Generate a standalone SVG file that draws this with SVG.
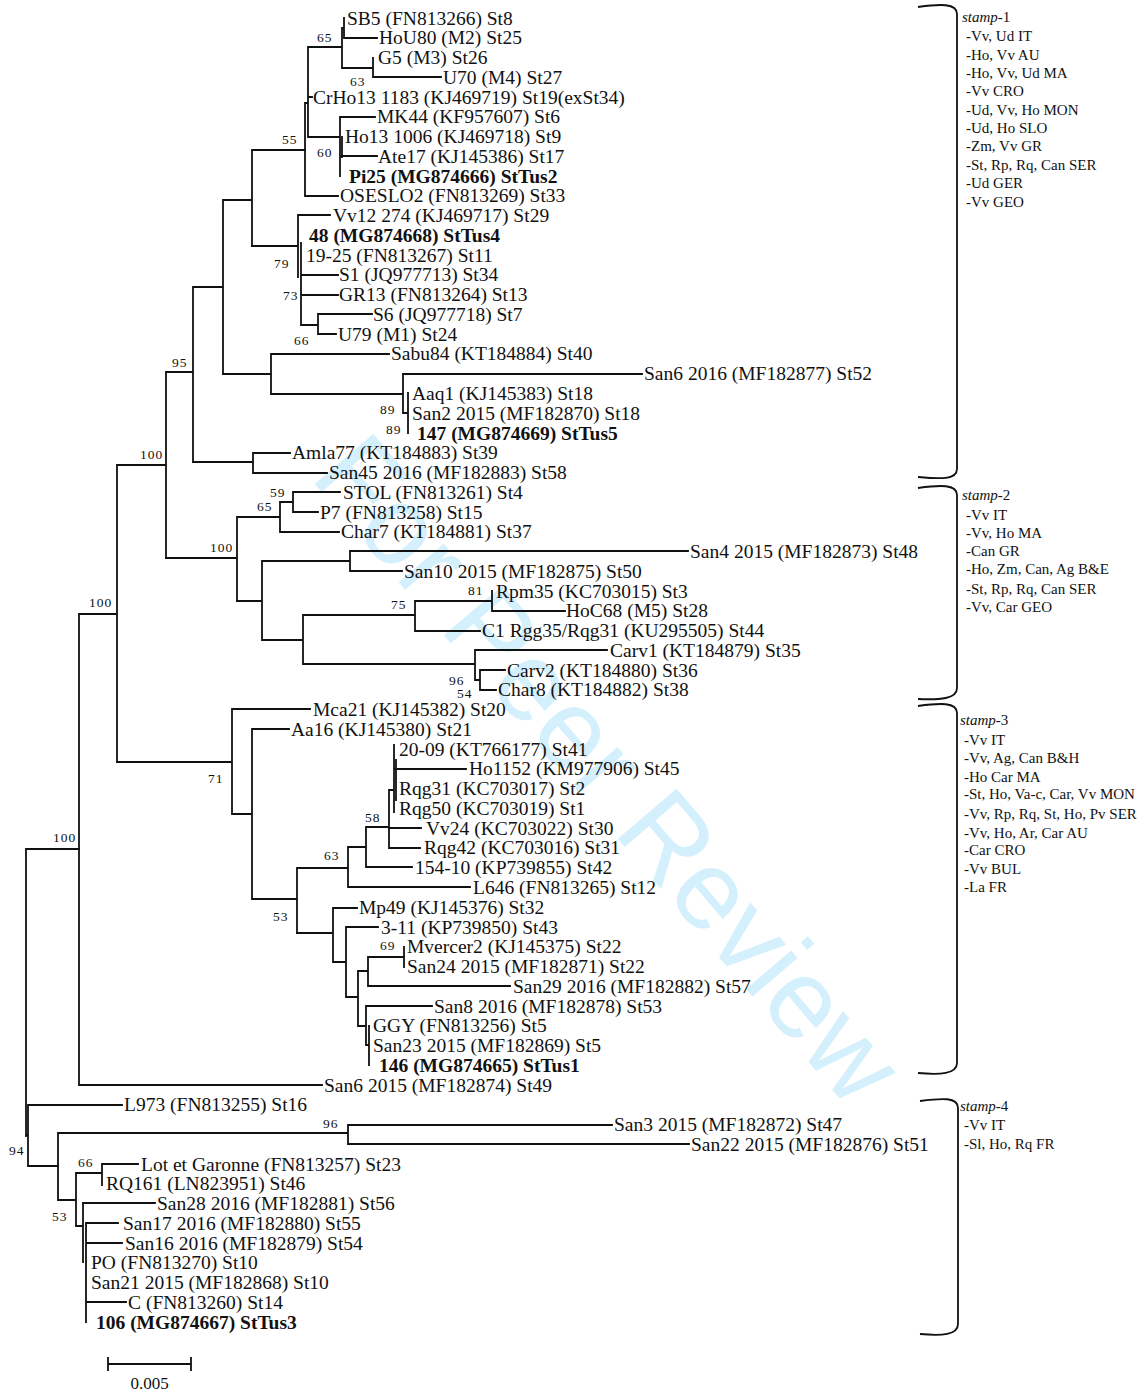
<svg xmlns="http://www.w3.org/2000/svg" width="1144" height="1393" viewBox="0 0 1144 1393">
<style>
.t{font-family:"Liberation Serif","Times New Roman",serif;font-size:19.5px;fill:#111}
.b{font-weight:bold}
.bs{font-family:"Liberation Serif","Times New Roman",serif;font-size:13.5px;letter-spacing:1px;fill:#111}
.s{font-family:"Liberation Serif","Times New Roman",serif;font-size:15px;fill:#111}
.br{fill:none;stroke:#111;stroke-width:1.8;stroke-linecap:square}
.bk{fill:none;stroke:#111;stroke-width:1.8}
.wm{font-family:"Liberation Sans",Arial,sans-serif;font-size:112px;fill:#d3f0fc}
</style>
<rect width="1144" height="1393" fill="#fff"/>
<g id="watermark"><text class="wm" transform="translate(610,768) rotate(49.5)" x="0" y="40" text-anchor="middle">For Peer Review</text></g>
<g id="connectors" class="br">
<path d="M26,849V1136M26,849H79M26,1135H28M28,1105V1166M28,1105H122M28,1166H58"/>
<path d="M79,614V1085M79,1085H322M79,614H117M117,465V762M117,465H166M166,372V558M166,372H193M193,287V462M193,287H223M223,200V374M223,200H252M252,150V246M252,150H305"/>
<path d="M305,103V196M305,196H338M305,103H308M308,47V137M308,47H342M342,28V68M342,28H344M344,18V38M344,38H377M342,68H373M373,58V77M373,77H441M308,97H312M308,137H340M340,117V176M342,137V157M340,117H375M340,156H377"/>
<path d="M252,246H298M298,215V277M298,215H330M301,243V325M301,275H338M301,295H338M301,325H318M318,314V334M318,314H372M318,334H336"/>
<path d="M223,374H271M271,354V394M271,354H389M271,394H403M403,374V413M403,374H642M403,413H408M408,393V433"/>
<path d="M193,462H253M253,453V473M253,453H290M253,473H327"/>
<path d="M166,558H237M237,517V601M237,517H280M280,502V532M280,502H293M293,492V512M293,492H340M293,512H318M280,532H339"/>
<path d="M237,601H262M262,561V640M262,561H350M350,551V571M350,551H688M350,571H402M262,640H303M303,615V664M303,615H415M415,601V631M415,601H492M492,591V611M492,611H565M415,631H480M303,664H475M475,650V680M475,650H607M475,680H480M480,670V690M480,670H505M480,690H496"/>
<path d="M117,762H232M232,709V814M232,709H310M232,814H252M252,729V899M252,729H289M252,899H297M297,868V933M297,868H348M348,847V887M348,887H470M348,847H366M366,827V867M366,867H412M366,827H389M389,790V848M389,828H421M389,848H420M389,790H394M394,745V812M396,760V800M394,769H466"/>
<path d="M297,933H333M333,908V962M333,908H357M333,962H346M346,927V997M346,927H378M346,997H358M358,971V1026M358,971H368M368,957V986M368,957H404M404,947V967M368,986H510M358,1026H366M366,1006V1045M366,1006H432M366,1045H369M369,1026V1065"/>
<path d="M58,1133V1200M58,1133H348M348,1125V1144M348,1125H612M348,1144H689M58,1200H76M76,1173V1226M76,1173H102M102,1164V1185M102,1164H138M76,1226H83M83,1203V1262M83,1203H155M86,1223V1322M86,1223H118M86,1243H122M86,1302H126"/>
</g>
<g id="leaves">
<g id="n1"><text class="t" x="347" y="24.5">SB5 (FN813266) St8</text></g>
<g id="n2"><text class="t" x="379" y="44.3">HoU80 (M2) St25</text></g>
<g id="n3"><text class="t" x="378" y="64">G5 (M3) St26</text></g>
<g id="n4"><text class="t" x="443" y="83.8">U70 (M4) St27</text></g>
<g id="n5"><text class="t" x="313" y="103.5">CrHo13 1183 (KJ469719) St19(exSt34)</text></g>
<g id="n6"><text class="t" x="377" y="123.3">MK44 (KF957607) St6</text></g>
<g id="n7"><text class="t" x="345" y="143.1">Ho13 1006 (KJ469718) St9</text></g>
<g id="n8"><text class="t" x="378" y="162.8">Ate17 (KJ145386) St17</text></g>
<g id="n9"><text class="t b" x="349" y="182.6">Pi25 (MG874666) StTus2</text></g>
<g id="n10"><text class="t" x="340" y="202.3">OSESLO2 (FN813269) St33</text></g>
<g id="n11"><text class="t" x="333" y="222.1">Vv12 274 (KJ469717) St29</text></g>
<g id="n12"><text class="t b" x="309" y="241.9">48 (MG874668) StTus4</text></g>
<g id="n13"><text class="t" x="306" y="261.6">19-25 (FN813267) St11</text></g>
<g id="n14"><text class="t" x="339" y="281.4">S1 (JQ977713) St34</text></g>
<g id="n15"><text class="t" x="339" y="301.1">GR13 (FN813264) St13</text></g>
<g id="n16"><text class="t" x="373" y="320.9">S6 (JQ977718) St7</text></g>
<g id="n17"><text class="t" x="338" y="340.7">U79 (M1) St24</text></g>
<g id="n18"><text class="t" x="391" y="360.4">Sabu84 (KT184884) St40</text></g>
<g id="n19"><text class="t" x="644" y="380.2">San6 2016 (MF182877) St52</text></g>
<g id="n20"><text class="t" x="412" y="399.9">Aaq1 (KJ145383) St18</text></g>
<g id="n21"><text class="t" x="412" y="419.7">San2 2015 (MF182870) St18</text></g>
<g id="n22"><text class="t b" x="417" y="439.5">147 (MG874669) StTus5</text></g>
<g id="n23"><text class="t" x="292" y="459.2">Amla77 (KT184883) St39</text></g>
<g id="n24"><text class="t" x="329" y="479">San45 2016 (MF182883) St58</text></g>
<g id="n25"><text class="t" x="343" y="498.7">STOL (FN813261) St4</text></g>
<g id="n26"><text class="t" x="320" y="518.5">P7 (FN813258) St15</text></g>
<g id="n27"><text class="t" x="341" y="538.3">Char7 (KT184881) St37</text></g>
<g id="n28"><text class="t" x="690" y="558">San4 2015 (MF182873) St48</text></g>
<g id="n29"><text class="t" x="404" y="577.8">San10 2015 (MF182875) St50</text></g>
<g id="n30"><text class="t" x="496" y="597.5">Rpm35 (KC703015) St3</text></g>
<g id="n31"><text class="t" x="566" y="617.3">HoC68 (M5) St28</text></g>
<g id="n32"><text class="t" x="482" y="637.1">C1 Rgg35/Rqg31 (KU295505) St44</text></g>
<g id="n33"><text class="t" x="610" y="656.8">Carv1 (KT184879) St35</text></g>
<g id="n34"><text class="t" x="507" y="676.6">Carv2 (KT184880) St36</text></g>
<g id="n35"><text class="t" x="498" y="696.3">Char8 (KT184882) St38</text></g>
<g id="n36"><text class="t" x="313" y="716.1">Mca21 (KJ145382) St20</text></g>
<g id="n37"><text class="t" x="291" y="735.9">Aa16 (KJ145380) St21</text></g>
<g id="n38"><text class="t" x="399" y="755.6">20-09 (KT766177) St41</text></g>
<g id="n39"><text class="t" x="469" y="775.4">Ho1152 (KM977906) St45</text></g>
<g id="n40"><text class="t" x="399" y="795.1">Rqg31 (KC703017) St2</text></g>
<g id="n41"><text class="t" x="399" y="814.9">Rqg50 (KC703019) St1</text></g>
<g id="n42"><text class="t" x="426" y="834.7">Vv24 (KC703022) St30</text></g>
<g id="n43"><text class="t" x="424" y="854.4">Rqg42 (KC703016) St31</text></g>
<g id="n44"><text class="t" x="415" y="874.2">154-10 (KP739855) St42</text></g>
<g id="n45"><text class="t" x="473" y="893.9">L646 (FN813265) St12</text></g>
<g id="n46"><text class="t" x="359" y="913.7">Mp49 (KJ145376) St32</text></g>
<g id="n47"><text class="t" x="381" y="933.5">3-11 (KP739850) St43</text></g>
<g id="n48"><text class="t" x="407" y="953.2">Mvercer2 (KJ145375) St22</text></g>
<g id="n49"><text class="t" x="407" y="973">San24 2015 (MF182871) St22</text></g>
<g id="n50"><text class="t" x="513" y="992.7">San29 2016 (MF182882) St57</text></g>
<g id="n51"><text class="t" x="434" y="1012.5">San8 2016 (MF182878) St53</text></g>
<g id="n52"><text class="t" x="373" y="1032.3">GGY (FN813256) St5</text></g>
<g id="n53"><text class="t" x="373" y="1052">San23 2015 (MF182869) St5</text></g>
<g id="n54"><text class="t b" x="379" y="1071.8">146 (MG874665) StTus1</text></g>
<g id="n55"><text class="t" x="324" y="1091.5">San6 2015 (MF182874) St49</text></g>
<g id="n56"><text class="t" x="124" y="1111.3">L973 (FN813255) St16</text></g>
<g id="n57"><text class="t" x="614" y="1131.1">San3 2015 (MF182872) St47</text></g>
<g id="n58"><text class="t" x="691" y="1150.8">San22 2015 (MF182876) St51</text></g>
<g id="n59"><text class="t" x="141" y="1170.6">Lot et Garonne (FN813257) St23</text></g>
<g id="n60"><text class="t" x="106" y="1190.3">RQ161 (LN823951) St46</text></g>
<g id="n61"><text class="t" x="157" y="1210.1">San28 2016 (MF182881) St56</text></g>
<g id="n62"><text class="t" x="123" y="1229.9">San17 2016 (MF182880) St55</text></g>
<g id="n63"><text class="t" x="125" y="1249.6">San16 2016 (MF182879) St54</text></g>
<g id="n64"><text class="t" x="91" y="1269.4">PO (FN813270) St10</text></g>
<g id="n65"><text class="t" x="91" y="1289.1">San21 2015 (MF182868) St10</text></g>
<g id="n66"><text class="t" x="128" y="1308.9">C (FN813260) St14</text></g>
<g id="n67"><text class="t b" x="96" y="1328.7">106 (MG874667) StTus3</text></g>
</g>
<g id="bootstrap" class="bs">
<text x="317" y="41.5">65</text>
<text x="350" y="85.5">63</text>
<text x="282" y="144">55</text>
<text x="317" y="156.5">60</text>
<text x="274" y="267.5">79</text>
<text x="283" y="299.5">73</text>
<text x="294" y="344.5">66</text>
<text x="172" y="366.5">95</text>
<text x="380" y="414">89</text>
<text x="386" y="434">89</text>
<text x="140" y="458.5">100</text>
<text x="270" y="496.5">59</text>
<text x="257" y="511">65</text>
<text x="210" y="551.5">100</text>
<text x="89" y="606.5">100</text>
<text x="391" y="608.5">75</text>
<text x="468" y="594.5">81</text>
<text x="449" y="685">96</text>
<text x="457" y="698">54</text>
<text x="208" y="782.5">71</text>
<text x="324" y="859.5">63</text>
<text x="365" y="822">58</text>
<text x="273" y="920.5">53</text>
<text x="380" y="950">69</text>
<text x="53" y="841.5">100</text>
<text x="323" y="1128">96</text>
<text x="9" y="1154.5">94</text>
<text x="78" y="1166.5">66</text>
<text x="52" y="1221">53</text>
</g>
<g id="stamp-1">
<path class="bk" d="M918,7C940,4 957,3 957,14V469C957,480 940,479 918,477"/>
<text class="s" x="962" y="22"><tspan font-style="italic">stamp</tspan>-1</text>
<text class="s" x="966" y="41">-Vv, Ud IT</text>
<text class="s" x="966" y="59.5">-Ho, Vv AU</text>
<text class="s" x="966" y="78">-Ho, Vv, Ud MA</text>
<text class="s" x="966" y="96">-Vv CRO</text>
<text class="s" x="966" y="115">-Ud, Vv, Ho MON</text>
<text class="s" x="966" y="133">-Ud, Ho SLO</text>
<text class="s" x="966" y="151">-Zm, Vv GR</text>
<text class="s" x="966" y="170">-St, Rp, Rq, Can SER</text>
<text class="s" x="966" y="188">-Ud GER</text>
<text class="s" x="966" y="207">-Vv GEO</text>
</g>
<g id="stamp-2">
<path class="bk" d="M918,488C940,485 957,484 957,495V688C957,699 940,700 918,699"/>
<text class="s" x="962" y="500"><tspan font-style="italic">stamp</tspan>-2</text>
<text class="s" x="966" y="520">-Vv IT</text>
<text class="s" x="966" y="538">-Vv, Ho MA</text>
<text class="s" x="966" y="556">-Can GR</text>
<text class="s" x="966" y="574">-Ho, Zm, Can, Ag B&amp;E</text>
<text class="s" x="966" y="594">-St, Rp, Rq, Can SER</text>
<text class="s" x="966" y="612">-Vv, Car GEO</text>
</g>
<g id="stamp-3">
<path class="bk" d="M918,706C940,703 957,702 957,713V1063C957,1074 940,1075 918,1073"/>
<text class="s" x="960" y="725"><tspan font-style="italic">stamp</tspan>-3</text>
<text class="s" x="964" y="745">-Vv IT</text>
<text class="s" x="964" y="763">-Vv, Ag, Can  B&amp;H</text>
<text class="s" x="964" y="782">-Ho Car MA</text>
<text class="s" x="964" y="799">-St, Ho, Va-c, Car, Vv MON</text>
<text class="s" x="964" y="819">-Vv, Rp, Rq, St, Ho, Pv SER</text>
<text class="s" x="964" y="838">-Vv, Ho, Ar, Car AU</text>
<text class="s" x="964" y="855">-Car CRO</text>
<text class="s" x="964" y="874">-Vv BUL</text>
<text class="s" x="964" y="892">-La FR</text>
</g>
<g id="stamp-4">
<path class="bk" d="M920,1101C942,1098 958,1097 958,1108V1324C958,1335 942,1336 920,1334"/>
<text class="s" x="960" y="1111"><tspan font-style="italic">stamp</tspan>-4</text>
<text class="s" x="964" y="1130">-Vv IT</text>
<text class="s" x="964" y="1149">-Sl, Ho, Rq FR</text>
</g>
<g id="scale">
<path class="bk" d="M108,1364H191M108,1357V1371M191,1357V1371"/>
<text class="t" x="149.5" y="1389" text-anchor="middle" style="font-size:17px">0.005</text>
</g>
</svg>
